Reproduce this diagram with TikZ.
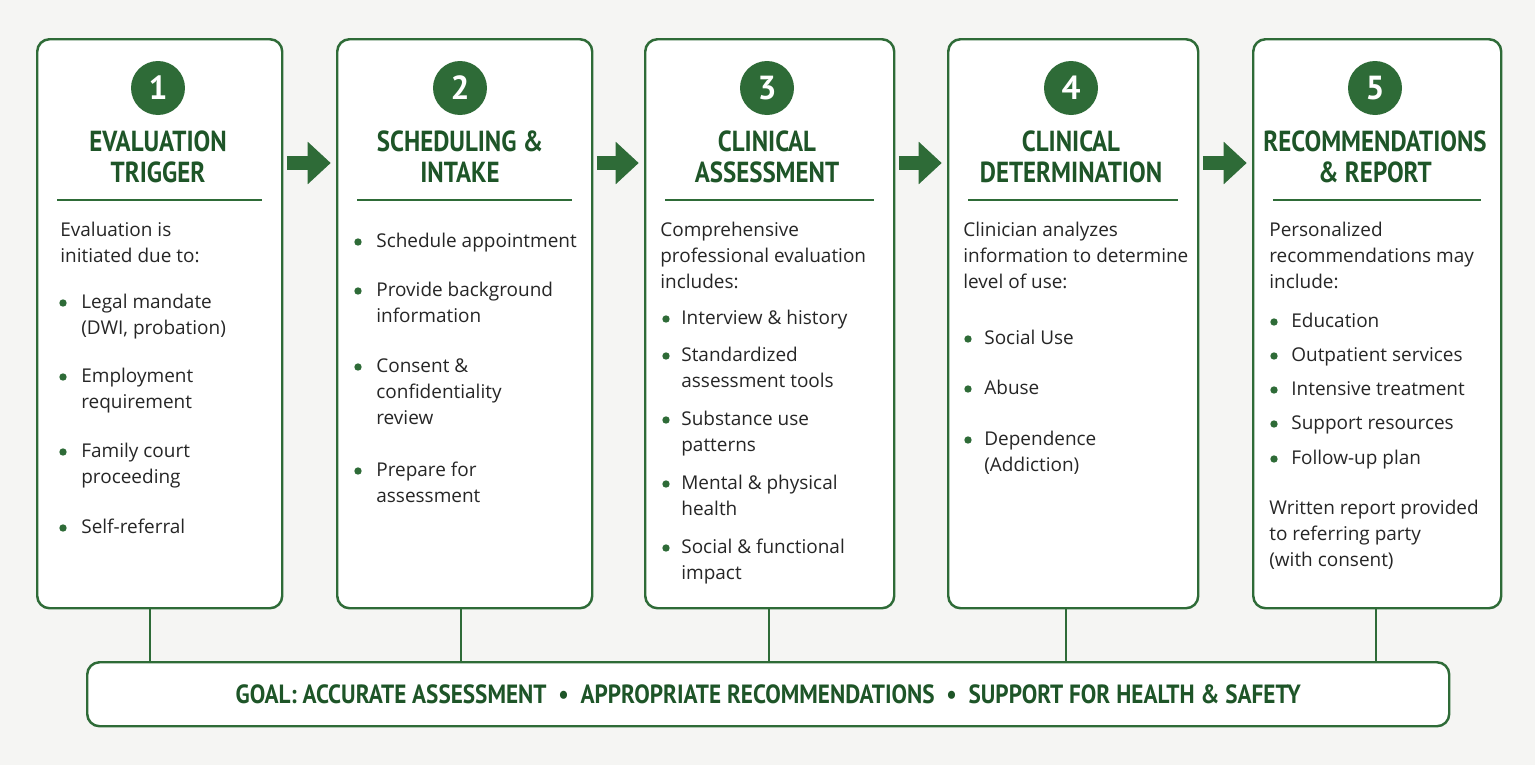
\documentclass[tikz,border=0pt]{standalone}
\usepackage{fontspec}
\setmainfont{Open Sans}
\newfontfamily\titlefont{PT Sans}
\usetikzlibrary{arrows.meta,positioning}
\definecolor{stepgreen}{HTML}{2E6B37}
\definecolor{titlegreen}{HTML}{1E5528}
\definecolor{pagebg}{HTML}{F5F5F3}
\tikzset{
  stepbox/.style={draw=stepgreen,line width=1.4pt,rounded corners=7pt,fill=white,minimum width=#1,anchor=north west},
  numdot/.style={circle,fill=stepgreen,minimum size=1.08cm,inner sep=0pt,text=white,font=\titlefont\bfseries\fontsize{19}{19}\selectfont},
  steptitle/.style={text=titlegreen,align=center,xscale=0.86,transform shape,font=\titlefont\bfseries\fontsize{16.5}{17.5}\selectfont},
  body/.style={anchor=north west,inner sep=0pt,align=left,font=\fontsize{10.8}{14.8}\selectfont,text=black!85},
  bul/.style={circle,fill=stepgreen,inner sep=0pt,minimum size=4.2pt},
  flow/.style={draw=stepgreen,line width=0.28cm,-{Triangle[length=0.46cm,width=0.82cm]},shorten <=2pt,shorten >=3pt},
  link/.style={draw=stepgreen,line width=1.3pt}
}
\newcommand\bitem[4]{% x-bullet, x-text, y, text
  \node[bul] at (#1,#3+9) {};
  \node[body] at (#2,#3) {#4};}
\begin{document}
\begin{tikzpicture}[x=0.02cm,y=-0.02cm]
\fill[pagebg] (0,0) rectangle (1535,765);
\useasboundingbox (0,0) rectangle (1535,765);
% step boxes
\node[stepbox=245*0.02cm,minimum height=569*0.02cm] (b1) at (36,38) {};
\node[stepbox=255*0.02cm,minimum height=569*0.02cm] (b2) at (336,38) {};
\node[stepbox=249*0.02cm,minimum height=569*0.02cm] (b3) at (644,38) {};
\node[stepbox=250*0.02cm,minimum height=569*0.02cm] (b4) at (947,38) {};
\node[stepbox=248*0.02cm,minimum height=569*0.02cm] (b5) at (1252,38) {};
% goal bar
\node[stepbox=1362*0.02cm,minimum height=64*0.02cm] (goal) at (86,661) {};
\node[text=titlegreen,xscale=0.88,transform shape,font=\titlefont\bfseries\fontsize{15}{15}\selectfont] (goaltext) at (goal.center)
  {GOAL: ACCURATE ASSESSMENT \ \textbullet\ \ APPROPRIATE RECOMMENDATIONS \ \textbullet\ \ SUPPORT FOR HEALTH \& SAFETY};
% numbers, titles, rules
\foreach \b/\x/\n/\t in {b1/158/1/{EVALUATION\\TRIGGER},b2/460/2/{SCHEDULING \&\\INTAKE},
    b3/767/3/{CLINICAL\\ASSESSMENT},b4/1071/4/{CLINICAL\\DETERMINATION},b5/1375/5/{RECOMMENDATIONS\\\& REPORT}}{
  \node[numdot] (n\n) at (\x,88) {\n};
  \node[steptitle] (t\n) at (\x,157) {\t};
  \draw[stepgreen,line width=1.2pt] ([xshift=12pt]\b.west |- 0,200) -- ([xshift=-12pt]\b.east |- 0,200);
}
% arrows between steps
\draw[flow] (b1.east |- 0,163) -- (b2.west |- 0,163);
\draw[flow] (b2.east |- 0,163) -- (b3.west |- 0,163);
\draw[flow] (b3.east |- 0,163) -- (b4.west |- 0,163);
\draw[flow] (b4.east |- 0,163) -- (b5.west |- 0,163);
% links to goal
\foreach \b/\x in {b1/150,b2/461,b3/769,b4/1066,b5/1376}
  \draw[link] (\b.south -| \x,0) -- (goal.north -| \x,0);
% step 1
\node[body] (p1) at (60,222) {Evaluation is\\initiated due to:};
\bitem{63}{81}{294}{Legal mandate\\(DWI, probation)}
\bitem{63}{81}{368}{Employment\\requirement}
\bitem{63}{81}{443}{Family court\\proceeding}
\bitem{63}{81}{519}{Self-referral}
% step 2
\bitem{358}{376}{233}{Schedule appointment}
\bitem{358}{376}{282}{Provide background\\information}
\bitem{358}{376}{358}{Consent \&\\confidentiality\\review}
\bitem{358}{376}{462}{Prepare for\\assessment}
% step 3
\node[body] (p3) at (660,222) {Comprehensive\\professional evaluation\\includes:};
\bitem{666}{681}{310}{Interview \& history}
\bitem{666}{681}{347}{Standardized\\assessment tools}
\bitem{666}{681}{411}{Substance use\\patterns}
\bitem{666}{681}{475}{Mental \& physical\\health}
\bitem{666}{681}{539}{Social \& functional\\impact}
% step 4
\node[body] (p4) at (963,222) {Clinician analyzes\\information to determine\\level of use:};
\bitem{968}{984}{330}{Social Use}
\bitem{968}{984}{380}{Abuse}
\bitem{968}{984}{431}{Dependence\\(Addiction)}
% step 5
\node[body] (p5) at (1269,222) {Personalized\\recommendations may\\include:};
\bitem{1274}{1291}{313}{Education}
\bitem{1274}{1291}{347}{Outpatient services}
\bitem{1274}{1291}{381}{Intensive treatment}
\bitem{1274}{1291}{415}{Support resources}
\bitem{1274}{1291}{450}{Follow-up plan}
\node[body] (w5) at (1269,500) {Written report provided\\to referring party\\(with consent)};
\end{tikzpicture}
\end{document}
